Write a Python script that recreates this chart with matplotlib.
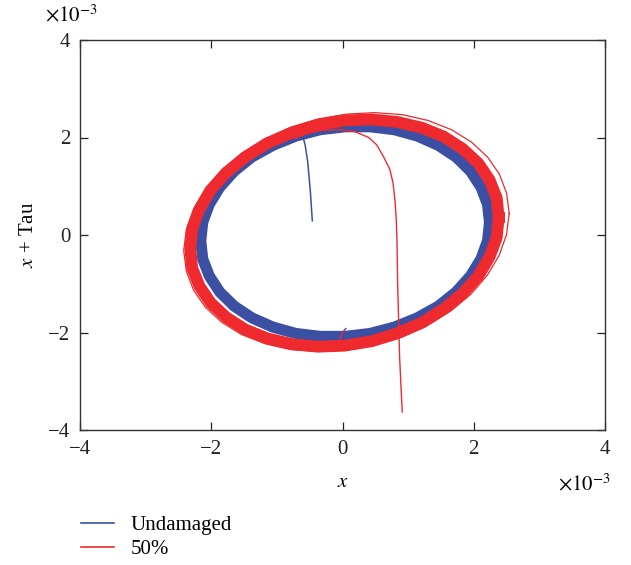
import matplotlib
matplotlib.use("Agg")
import matplotlib.pyplot as plt
from matplotlib.lines import Line2D

plt.rcParams["font.family"] = ["Liberation Serif", "DejaVu Serif"]
plt.rcParams["mathtext.fontset"] = "stix"

# values, in units of 1e-3
blue_loop_x = [2.24, 2.21, 2.11, 1.95, 1.73, 1.46, 1.14, 0.79, 0.42, 0.04,
               -0.34, -0.71, -1.06, -1.38, -1.65, -1.87, -2.03, -2.13, -2.16,
               -2.13, -2.03, -1.87, -1.65, -1.38, -1.06, -0.71, -0.34, 0.04,
               0.42, 0.79, 1.14, 1.46, 1.73, 1.95, 2.11, 2.21, 2.24]
blue_loop_y = [0.26, 0.63, 0.98, 1.31, 1.60, 1.84, 2.03, 2.16, 2.22, 2.22,
               2.16, 2.03, 1.84, 1.60, 1.31, 0.98, 0.63, 0.26, -0.12,
               -0.49, -0.84, -1.17, -1.46, -1.70, -1.89, -2.02, -2.08, -2.08,
               -2.02, -1.89, -1.70, -1.46, -1.17, -0.84, -0.49, -0.12, 0.26]

red_loop_x = [2.38, 2.35, 2.24, 2.07, 1.83, 1.54, 1.21, 0.83, 0.44, 0.03,
              -0.38, -0.77, -1.15, -1.48, -1.77, -2.01, -2.18, -2.29, -2.32,
              -2.29, -2.18, -2.01, -1.77, -1.48, -1.15, -0.77, -0.38, 0.03,
              0.44, 0.83, 1.21, 1.54, 1.83, 2.07, 2.24, 2.35, 2.38]
red_loop_y = [0.36, 0.76, 1.13, 1.47, 1.77, 2.02, 2.20, 2.32, 2.37, 2.35,
              2.26, 2.10, 1.88, 1.60, 1.28, 0.92, 0.53, 0.13, -0.28,
              -0.68, -1.05, -1.39, -1.69, -1.94, -2.12, -2.24, -2.29, -2.27,
              -2.18, -2.02, -1.80, -1.52, -1.20, -0.84, -0.45, -0.05, 0.36]

red_outer_x = [2.54, 2.50, 2.39, 2.21, 1.96, 1.66, 1.30, 0.91, 0.49, 0.06,
               -0.37, -0.79, -1.18, -1.54, -1.84, -2.09, -2.27, -2.38, -2.42,
               -2.38, -2.27, -2.09, -1.84, -1.54, -1.18, -0.79, -0.37, 0.06,
               0.49, 0.91, 1.30, 1.66, 1.96, 2.21, 2.39, 2.50, 2.54]
red_outer_y = [0.44, 0.86, 1.25, 1.60, 1.91, 2.16, 2.35, 2.47, 2.51, 2.48,
               2.38, 2.21, 1.97, 1.67, 1.33, 0.94, 0.53, 0.11, -0.32,
               -0.74, -1.13, -1.48, -1.79, -2.04, -2.23, -2.35, -2.39, -2.36,
               -2.26, -2.09, -1.85, -1.55, -1.21, -0.82, -0.41, 0.01, 0.44]

# start-up transients
blue_start_x = [-0.46, -0.49, -0.53, -0.57, -0.60, -0.66, -0.76, -0.88]
blue_start_y = [0.29, 0.90, 1.50, 1.85, 2.00, 2.06, 2.09, 2.10]
red_start_x = [0.91, 0.87, 0.84, 0.83, 0.82, 0.80, 0.77, 0.72, 0.62, 0.52,
               0.40, 0.19, -0.04, -0.30, -0.55, -0.72]
red_start_y = [-3.63, -2.50, -1.00, -0.10, 0.30, 0.70, 1.07, 1.35, 1.62, 1.85,
               2.00, 2.12, 2.16, 2.15, 2.08, 1.98]

blue_hook_x = [0.05, 0.00, -0.03]
blue_hook_y = [-1.92, -2.00, -2.15]
red_hook_x = [0.02, -0.02, -0.05]
red_hook_y = [-1.97, -2.05, -2.20]

ticks = [-4, -2, 0, 2, 4]
labels = ["Undamaged", "50%"]

BLUE = "#3b50a3"
RED = "#ee2a2e"

fig = plt.figure(figsize=(6.31, 5.65), dpi=100)
ax = fig.add_axes([80 / 631, 1 - 430 / 565, 525 / 631, 390 / 565])

ax.plot(blue_loop_x, blue_loop_y, color=BLUE, lw=8, solid_joinstyle="round")
ax.plot(blue_start_x, blue_start_y, color=BLUE, lw=1.1)
ax.plot(blue_hook_x, blue_hook_y, color=BLUE, lw=1.0)

ax.plot(red_loop_x, red_loop_y, color=RED, lw=8.5, solid_joinstyle="round")
ax.plot(red_outer_x, red_outer_y, color=RED, lw=0.9)
ax.plot(red_start_x, red_start_y, color=RED, lw=1.0)
ax.plot(red_hook_x, red_hook_y, color=RED, lw=1.0)

ax.set_xlim(-4, 4)
ax.set_ylim(-4, 4)
ax.set_xticks(ticks)
ax.set_yticks(ticks)
ax.tick_params(direction="in", length=6, width=0.9, top=True, right=True,
               labelsize=15, colors="#222222", pad=7)
for sp in ax.spines.values():
    sp.set_linewidth(1.0)
    sp.set_color("#333333")

ax.set_xlabel("$x$", fontsize=15, labelpad=10)
ax.set_ylabel("$x$ + Tau", fontsize=15, labelpad=7)

fig.text(45 / 631, 1 - 16 / 565, r"$\times10^{-3}$", fontsize=15, ha="left", va="center")
fig.text(558 / 631, 1 - 485 / 565, r"$\times10^{-3}$", fontsize=15, ha="left", va="center")

handles = [Line2D([], [], color=BLUE, lw=1.2), Line2D([], [], color=RED, lw=1.2)]
fig.legend(handles, labels, loc="upper left", bbox_to_anchor=(66 / 631, 1 - 501 / 565),
           frameon=False, fontsize=15, handlelength=1.6, handletextpad=0.8,
           labelspacing=0.2, borderpad=0.2)

fig.savefig("out.png", dpi=100)
